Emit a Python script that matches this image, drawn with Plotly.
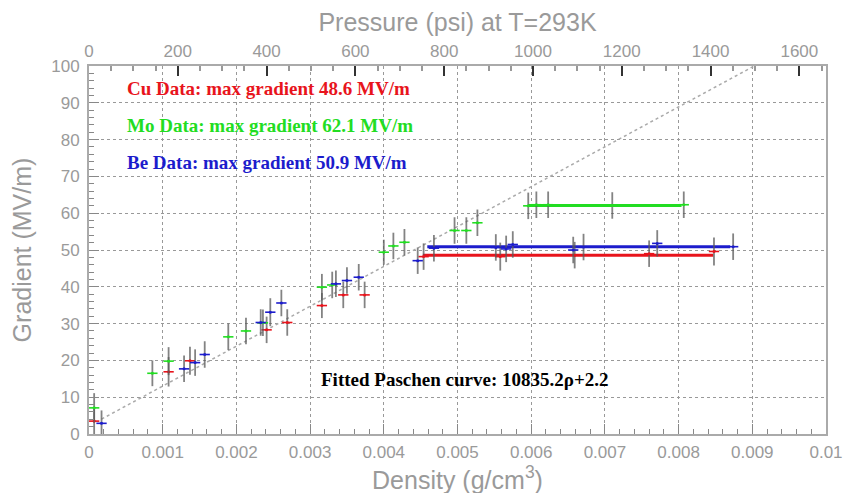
import numpy as np
import plotly.graph_objects as go

# ---------------- data ----------------
cu_rho = [0.00007, 0.00108, 0.00137, 0.00241, 0.00269, 0.00316, 0.00345, 0.00374,
          0.00454, 0.00558, 0.00659, 0.00760, 0.00848]
cu_grad = [3.5, 16.9, 19.9, 28.3, 30.3, 34.9, 37.8, 37.8,
           48.2, 48.2, 48.6, 49.0, 49.6]
cu_err = [3.5, 4.0, 3.8, 3.6, 3.6, 3.4, 3.6, 3.6, 3.6, 3.8, 3.6, 3.6, 3.8]

mo_rho = [0.00007, 0.00086, 0.00108, 0.00189, 0.00213, 0.00236, 0.00316, 0.00330,
          0.00400, 0.00413, 0.00428, 0.00496, 0.00512, 0.00527, 0.00596, 0.00607,
          0.00623, 0.00710, 0.00807]
mo_grad = [7.1, 16.5, 19.8, 26.4, 28.0, 30.2, 39.9, 40.5,
           49.4, 51.1, 52.1, 55.3, 55.3, 57.4, 62.0, 62.3,
           62.3, 62.1, 62.3]
mo_err = [4.0, 3.5, 3.8, 3.6, 3.6, 3.6, 3.6, 3.6, 3.4, 3.6, 3.6, 3.6, 3.6, 3.6,
          3.6, 3.6, 3.6, 3.6, 3.6]

be_rho = [0.00017, 0.00129, 0.00144, 0.00157, 0.00233, 0.00246, 0.00261, 0.00335,
          0.00350, 0.00366, 0.00446, 0.00468, 0.00552, 0.00566, 0.00575, 0.00657,
          0.00671, 0.00771, 0.00874]
be_grad = [2.9, 17.7, 19.4, 21.6, 30.3, 33.1, 35.6, 40.8,
           41.7, 42.6, 47.1, 50.5, 50.7, 50.3, 51.5, 50.0,
           50.8, 51.8, 50.9]
be_err = [3.5, 3.6, 3.6, 3.6, 3.6, 3.8, 3.6, 3.6, 3.6, 3.6, 3.6, 3.6, 3.6, 3.6,
          3.6, 3.6, 3.6, 3.6, 3.6]

rho_halfwidth = 0.00007  # horizontal colored tick half-width

# max-gradient plateaus: [start density, end density], gradient
cu_max_range = [0.00453, 0.00847]
mo_max_range = [0.00596, 0.00804]
be_max_range = [0.00459, 0.00870]
cu_max, mo_max, be_max = 48.6, 62.1, 50.9

# fitted Paschen curve parameters
fit_slope, fit_intercept = 10835.2, 2.2
fit_range = [0.00017, (100 - 2.2) / 10835.2]

# tick labels
x_ticks = [0, 0.001, 0.002, 0.003, 0.004, 0.005, 0.006, 0.007, 0.008, 0.009, 0.01]
x_ticktext = ["0", "0.001", "0.002", "0.003", "0.004", "0.005", "0.006", "0.007",
              "0.008", "0.009", "0.01"]
p_ticks = [0, 200, 400, 600, 800, 1000, 1200, 1400, 1600]
p_axis_max = 1660
y_ticks = [0, 10, 20, 30, 40, 50, 60, 70, 80, 90, 100]

RED = "#e8141c"
GREEN = "#22dd22"
BLUE = "#1c1ccc"
AXC = "#9a9a9a"

fig = go.Figure()

# fitted curve
fx = np.linspace(fit_range[0], fit_range[1], 50)
fig.add_trace(go.Scatter(x=fx, y=fit_slope * fx + fit_intercept, mode="lines",
                         line=dict(color="#aaaaaa", width=1.5, dash="dot"),
                         hoverinfo="skip", showlegend=False))

# plateau lines
for rng, val, col in [(cu_max_range, cu_max, RED), (be_max_range, be_max, BLUE),
                      (mo_max_range, mo_max, GREEN)]:
    fig.add_trace(go.Scatter(x=rng, y=[val, val], mode="lines",
                             line=dict(color=col, width=3), showlegend=False))

# data points
for xs, ys, es, col in [(cu_rho, cu_grad, cu_err, RED), (mo_rho, mo_grad, mo_err, GREEN),
                        (be_rho, be_grad, be_err, BLUE)]:
    fig.add_trace(go.Scatter(
        x=xs, y=ys, mode="markers",
        marker=dict(color=col, size=3),
        error_y=dict(type="data", array=es, color="rgba(90,90,90,0.75)",
                     thickness=1.8, width=0),
        error_x=dict(type="constant", value=rho_halfwidth, color=col,
                     thickness=1.6, width=0),
        showlegend=False))

# trace carrying the top pressure axis
fig.add_trace(go.Scatter(x=[0, p_axis_max], y=[-10, -10], xaxis="x2", mode="markers",
                         marker=dict(size=1, color="rgba(0,0,0,0)"),
                         showlegend=False, hoverinfo="skip"))

tickfont = dict(family="Liberation Sans", size=17, color=AXC)
titlefont = dict(family="Liberation Sans", size=25, color=AXC)
fig.update_layout(
    width=867, height=493,
    margin=dict(l=81, r=49, t=58, b=67, autoexpand=False),
    paper_bgcolor="white", plot_bgcolor="white",
    xaxis=dict(range=[0, 0.01], tickvals=x_ticks, ticktext=x_ticktext,
               ticks="inside", ticklen=10, tickcolor="#888", tickwidth=1,
               minor=dict(dtick=0.0002, ticks="inside", ticklen=5, tickcolor="#888",
                          showgrid=False),
               showgrid=True, gridcolor="#999", griddash="dot", gridwidth=1,
               showline=True, linecolor="#aaa", linewidth=2, mirror=False,
               zeroline=False, tickfont=tickfont, ticklabelstandoff=2,
               automargin=False,
               title=dict(text="Density (g/cm<sup>3</sup>)", font=titlefont,
                          standoff=4)),
    xaxis2=dict(range=[0, p_axis_max], overlaying="x", side="top", tickvals=p_ticks,
                ticks="inside", ticklen=10, tickcolor="#333", tickwidth=2,
                minor=dict(dtick=50, ticks="inside", ticklen=5, tickcolor="#999"),
                showgrid=False, showline=True, linecolor="#aaa", linewidth=2,
                zeroline=False, tickfont=tickfont, automargin=False,
                title=dict(text="Pressure (psi) at T=293K", font=titlefont,
                           standoff=12)),
    yaxis=dict(range=[0, 100], tickvals=y_ticks, ticks="inside", ticklen=10,
               tickcolor="#888", tickwidth=1,
               minor=dict(dtick=2, ticks="inside", ticklen=5, tickcolor="#888",
                          showgrid=False),
               showgrid=True, gridcolor="#999", griddash="dot", gridwidth=1,
               showline=True, linecolor="#aaa", linewidth=2, mirror=True,
               zeroline=False, tickfont=tickfont, ticklabelstandoff=4,
               automargin=False,
               title=dict(text="Gradient (MV/m)", font=titlefont, standoff=20)),
)

serif = "Liberation Serif"
notes = [
    ("Cu Data: max gradient 48.6 MV/m", 0.00049, 93.8, RED),
    ("Mo Data: max gradient 62.1 MV/m", 0.00049, 83.7, GREEN),
    ("Be Data: max gradient 50.9 MV/m", 0.00049, 73.9, BLUE),
]
for txt, x, y, col in notes:
    fig.add_annotation(x=x, y=y, text="<b>" + txt + "</b>", showarrow=False,
                       xanchor="left", yanchor="middle",
                       font=dict(family=serif, size=19, color=col))
fig.add_annotation(x=0.00509, y=14.7, text="<b>Fitted Paschen curve: 10835.2ρ+2.2</b>",
                   showarrow=False, xanchor="center", yanchor="middle",
                   font=dict(family=serif, size=19, color="black"))

fig.write_html("out.html")
